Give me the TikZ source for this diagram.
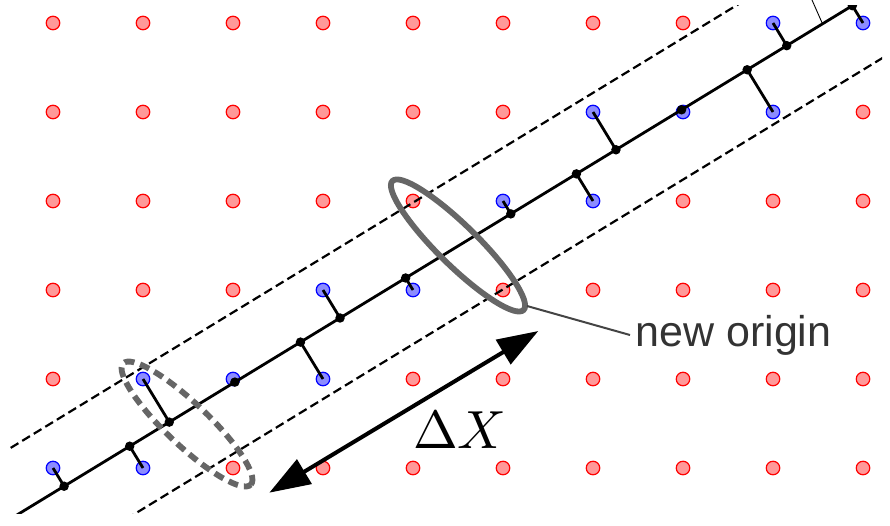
\documentclass[tikz,border=0pt]{standalone}
\usepackage{graphicx}
\usepackage{fontspec}
\newfontfamily\labelfont{Liberation Sans}
\usetikzlibrary{calc,arrows.meta}
\definecolor{ellgray}{RGB}{102,102,102}
\definecolor{leadgray}{RGB}{68,68,68}
\definecolor{textgray}{RGB}{51,51,51}
\tikzset{
  reddot/.style={circle, draw=red, fill=red!40, line width=1.2pt, inner sep=0pt, minimum size=13.5pt},
  bluedot/.style={circle, draw=blue, fill=blue!45, line width=1.2pt, inner sep=0pt, minimum size=13.5pt},
  blackdot/.style={circle, fill=black, inner sep=0pt, minimum size=9.5pt},
  mainline/.style={line width=2.8pt},
  projline/.style={line width=2.8pt},
  striplane/.style={line width=2.2pt, dash pattern=on 9pt off 4.5pt},
  solidell/.style={draw=ellgray, line width=5.8pt},
  dashell/.style={draw=ellgray, line width=5.8pt, dash pattern=on 10pt off 6pt},
  bigarrow/.style={line width=4pt, {Triangle[length=41pt,width=28pt]}-{Triangle[length=41pt,width=28pt]}},
  leader/.style={draw=leadgray, line width=2pt},
  thinline/.style={line width=0.9pt}
}
\begin{document}
\begin{tikzpicture}[x=1pt,y=-1pt]
\useasboundingbox (0,0) rectangle (890,525);
% red lattice points
\foreach \j/\reds in {0/{0,...,7},1/{0,...,5,9},2/{0,...,4,7,8,9},3/{0,1,2,5,6,7,8,9},4/{0,4,5,6,7,8,9},5/{2,...,9}}{
  \foreach \i in \reds {
    \node[reddot] (r-\i-\j) at (53+90*\i, 23+89*\j) {};
  }
}
% blue lattice points
\foreach \i/\j in {8/0,9/0,6/1,7/1,8/1,5/2,6/2,3/3,4/3,1/4,2/4,3/4,0/5,1/5}{
  \node[bluedot] (b-\i-\j) at (53+90*\i, 23+89*\j) {};
}
% line geometry
\coordinate (L1) at (63.3,486.7);
\coordinate (L2) at (787.3,45.3);
\coordinate (M1) at ($(L1)!-0.2!(L2)$);
\coordinate (M2) at ($(L1)!1.2!(L2)$);
\coordinate (U1) at ($(M1)+(0,-70.9)$);
\coordinate (U2) at ($(M2)+(0,-70.9)$);
\coordinate (D1) at ($(M1)+(0,70.7)$);
\coordinate (D2) at ($(M2)+(0,70.7)$);
\begin{scope}
  \clip (10,5.5) rectangle (882,513);
  \draw[striplane] (U1) -- (U2);
  \draw[striplane] (D1) -- (D2);
  \draw[mainline] (M1) -- (M2);
  \foreach \i/\j in {8/0,9/0,6/1,7/1,8/1,5/2,6/2,3/3,4/3,1/4,2/4,3/4,0/5,1/5}{
    \coordinate (p-\i-\j) at ($(L1)!(b-\i-\j.center)!(L2)$);
    \draw[projline] (b-\i-\j.center) -- (p-\i-\j);
    \node[blackdot] (k-\i-\j) at (p-\i-\j) {};
  }
\end{scope}
% thin line at top
\coordinate (t1) at (822.5,23.8);
\coordinate (t2) at (812,0);
\draw[thinline] (t1) -- (t2);
% ellipses
\coordinate (ec) at (458,245.5);
\draw[solidell, rotate around={-44.5:(ec)}] (ec) ellipse [x radius=92pt, y radius=20pt];
\coordinate (dc) at (187,424);
\draw[dashell, rotate around={-43.5:(dc)}] (dc) ellipse [x radius=88pt, y radius=21pt];
% label new origin
\node[anchor=base west, inner sep=0pt, text=textgray, font=\labelfont\fontsize{43}{50}\selectfont] (lbl) at (635.3,346.7) {new origin};
\coordinate (e1) at (527,306);
\coordinate (le) at (630,335);
\draw[leader] (e1) -- (le);
% Delta X arrow
\coordinate (A1) at (269.3,492.7);
\coordinate (A2) at (538.3,331);
\draw[bigarrow] (A1) -- (A2);
\node[anchor=base west, inner sep=0pt] (dx) at (413,448.3) {\scalebox{5.37}{$\Delta X$}};
\end{tikzpicture}
\end{document}
